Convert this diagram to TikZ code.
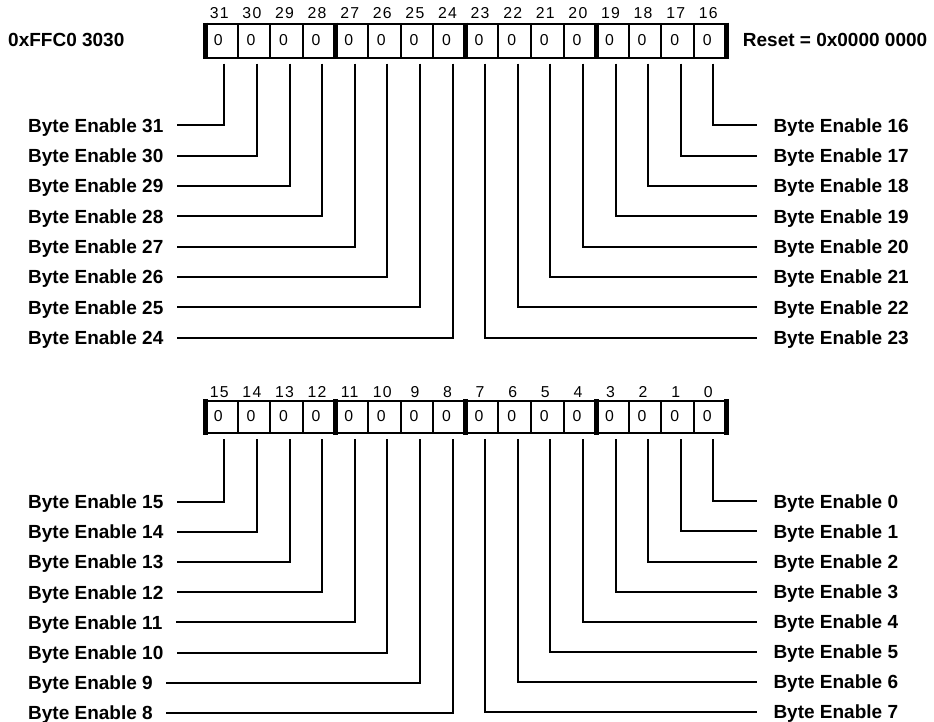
\documentclass[tikz,border=0pt]{standalone}
\usepackage{fontspec}
\setmainfont{Liberation Sans}
\newfontfamily\numfont[LetterSpace=8]{Liberation Sans}
\begin{document}
\begin{tikzpicture}[x=1pt,y=-1pt,
  cellbox/.style={draw, line width=1.9pt, minimum width=32.6pt, minimum height=#1, inner sep=0pt, outer sep=0pt},
  zerotxt/.style={font=\fontsize{15.8}{17}\selectfont, inner sep=0pt, text height=11.3pt, text depth=0pt},
  bitnum/.style={font=\numfont\fontsize{15.8}{17}\selectfont, inner sep=0pt, text height=11.3pt, text depth=0pt},
  belbl/.style={font=\fontsize{19}{22}\selectfont\bfseries, inner sep=0pt, text height=13.6pt, text depth=0pt},
  bar/.style={line width=5pt},
  conn/.style={line width=2pt}]
\fill[white] (0,0) rectangle (934,722);
\useasboundingbox (0,0) rectangle (934,722);

% ---------- header texts ----------
\node[belbl, anchor=west] (addr) at (8,39.3) {0xFFC0 3030};
\node[belbl, anchor=west] (rst) at (742.7,39.3) {Reset = 0x0000 0000};

% ---------- top register (bits 31..16) ----------
\foreach \b in {31,30,...,16}{
  \pgfmathsetmacro\cx{205+(31-\b+0.5)*32.6}
  \node[cellbox=33.4pt] (c\b) at (\cx,41) {};
  \node[zerotxt] (z\b) at ([xshift=-3pt,yshift=1pt]c\b.center) {0};
  \node[bitnum] (n\b) at (\cx-2,12.8) {\b};
}
\foreach \b in {31,27,23,19}{
  \draw[bar] ([yshift=1.7pt]c\b.north west) -- ([yshift=-1.7pt]c\b.south west);
}
\draw[bar] ([yshift=1.7pt]c16.north east) -- ([yshift=-1.7pt]c16.south east);

% left labels 31..24
\foreach \b in {31,30,...,24}{
  \pgfmathsetmacro\ly{125.3+(31-\b)*30.35}
  \node[belbl, anchor=west] (L\b) at (28,\ly) {Byte Enable \b};
  \draw[conn] ([xshift=3pt,yshift=-6pt]c\b.south) |- ([xshift=13pt]L\b.east);
}
% right labels 16..23
\foreach \b in {16,17,...,23}{
  \pgfmathsetmacro\ly{125.5+(\b-16)*30.3}
  \node[belbl, anchor=west] (L\b) at (773.3,\ly) {Byte Enable \b};
  \draw[conn] ([xshift=3pt,yshift=-6pt]c\b.south) |- ([xshift=-16pt]L\b.west);
}

% ---------- bottom register (bits 15..0) ----------
\foreach \b in {15,14,...,0}{
  \pgfmathsetmacro\cx{205+(15-\b+0.5)*32.6}
  \node[cellbox=32pt] (c\b) at (\cx,417) {};
  \node[zerotxt] (z\b) at ([xshift=-3pt,yshift=1pt]c\b.center) {0};
  \node[bitnum] (n\b) at (\cx-2,392) {\b};
}
\foreach \b in {15,11,7,3}{
  \draw[bar] ([yshift=1.7pt]c\b.north west) -- ([yshift=-1.7pt]c\b.south west);
}
\draw[bar] ([yshift=1.7pt]c0.north east) -- ([yshift=-1.7pt]c0.south east);

% left labels 15..8
\foreach \b in {15,14,...,8}{
  \pgfmathsetmacro\ly{501.8+(15-\b)*30.15}
  \node[belbl, anchor=west] (L\b) at (28,\ly) {Byte Enable \b};
  \draw[conn] ([xshift=3pt,yshift=-6pt]c\b.south) |- ([xshift=13pt]L\b.east);
}
% right labels 0..7
\foreach \b in {0,1,...,7}{
  \pgfmathsetmacro\ly{501.3+\b*30.1}
  \node[belbl, anchor=west] (L\b) at (773.3,\ly) {Byte Enable \b};
  \draw[conn] ([xshift=3pt,yshift=-6pt]c\b.south) |- ([xshift=-16pt]L\b.west);
}
\end{tikzpicture}
\end{document}
